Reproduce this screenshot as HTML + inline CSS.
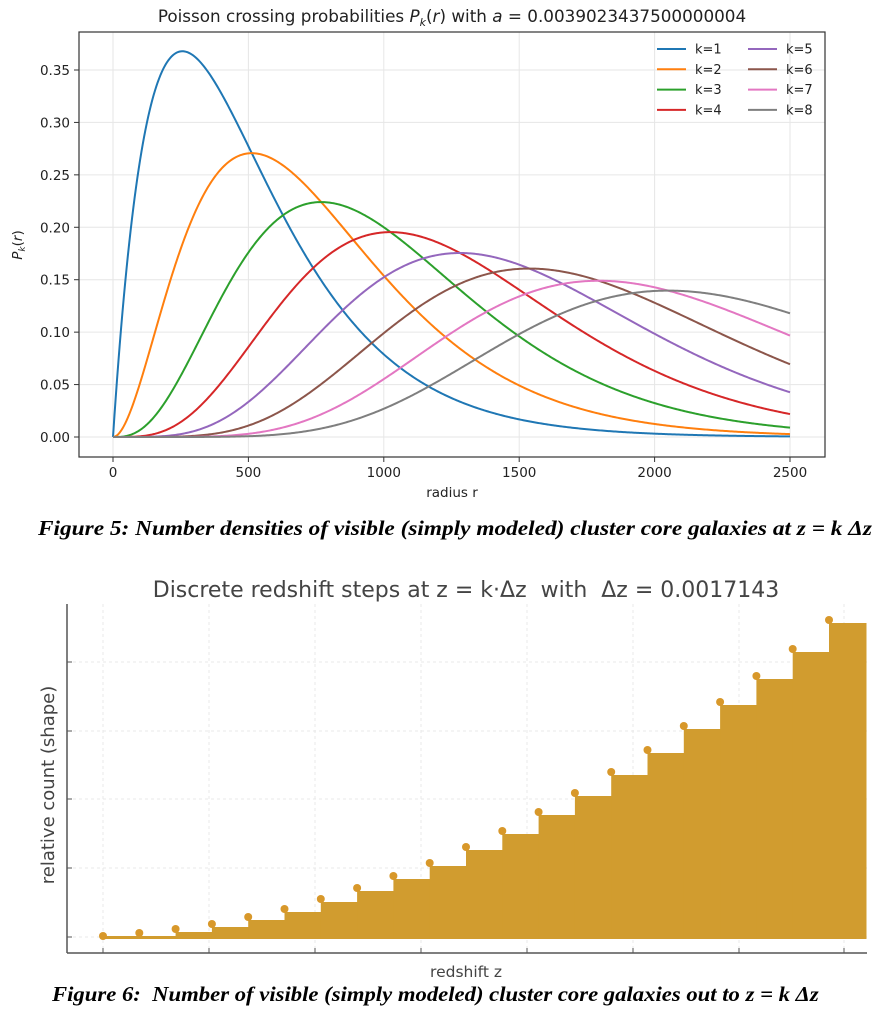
<!DOCTYPE html>
<html><head><meta charset="utf-8"><style>
body{margin:0;background:#fff;width:887px;height:1024px;overflow:hidden}
svg{position:absolute;left:0;top:0}
.cap{position:absolute;font-family:"Liberation Serif",serif;font-weight:bold;font-style:italic;font-size:21px;color:#000;white-space:pre;transform-origin:0 0}
</style></head><body>
<svg id="s" width="887" height="1024" xmlns="http://www.w3.org/2000/svg" font-family="DejaVu Sans, Liberation Sans, sans-serif">
<g id="g1"></g>
<g id="g2"></g>
<text x="452" y="22" font-size="16.8" text-anchor="middle" fill="#222">Poisson crossing probabilities <tspan font-style="italic">P</tspan><tspan font-style="italic" font-size="11" dy="4">k</tspan><tspan dy="-4">(</tspan><tspan font-style="italic">r</tspan>) with <tspan font-style="italic">a</tspan> = 0.0039023437500000004</text>
<text x="452" y="497" font-size="13.5" text-anchor="middle" fill="#222">radius r</text>
<text transform="translate(22,245) rotate(-90)" font-size="13.5" text-anchor="middle" fill="#222"><tspan font-style="italic">P</tspan><tspan font-style="italic" font-size="9" dy="3">k</tspan><tspan dy="-3">(</tspan><tspan font-style="italic">r</tspan>)</text>
<text x="466" y="597" font-size="22" text-anchor="middle" fill="#444" style="white-space:pre">Discrete redshift steps at z = k·Δz  with  Δz = 0.0017143</text>
<text transform="translate(54,785) rotate(-90)" font-size="18" text-anchor="middle" fill="#444">relative count (shape)</text>
<text x="466" y="977" font-size="15.5" text-anchor="middle" fill="#444">redshift z</text>
</svg>
<div class="cap" style="left:38px;top:516px;transform:scaleX(1.11)">Figure 5: Number densities of visible (simply modeled) cluster core galaxies at z = k Δz</div>
<div class="cap" style="left:52px;top:982px;transform:scaleX(1.08)">Figure 6:  Number of visible (simply modeled) cluster core galaxies out to z = k Δz</div>
<script>
const NS="http://www.w3.org/2000/svg";
function el(p,t,a,txt){const e=document.createElementNS(NS,t);for(const k in a)e.setAttribute(k,a[k]);if(txt!==undefined)e.textContent=txt;p.appendChild(e);return e;}
const g1=document.getElementById('g1');
const X=r=>113+r*(677/2500), Y=v=>437-v*1048.6;
for(let r=0;r<=2500;r+=500){el(g1,'line',{x1:X(r),x2:X(r),y1:32,y2:457,stroke:'#e6e6e6','stroke-width':1});
 el(g1,'line',{x1:X(r),x2:X(r),y1:457,y2:462,stroke:'#333'});
 el(g1,'text',{x:X(r),y:477,'font-size':13.5,'text-anchor':'middle',fill:'#222'},r);}
for(let i=0;i<=7;i++){const v=i*0.05;el(g1,'line',{x1:79,x2:825,y1:Y(v),y2:Y(v),stroke:'#e6e6e6'});
 el(g1,'line',{x1:74,x2:79,y1:Y(v),y2:Y(v),stroke:'#333'});
 el(g1,'text',{x:70,y:Y(v)+5,'font-size':13.5,'text-anchor':'end',fill:'#222'},v.toFixed(2));}
const cols=['#1f77b4','#ff7f0e','#2ca02c','#d62728','#9467bd','#8c564b','#e377c2','#7f7f7f'];
const a=0.0039023437500000004;
let fact=1;
for(let k=1;k<=8;k++){fact*=k;let d='';
 for(let r=0;r<=2500;r+=5){const x=a*r;const v=Math.pow(x,k)*Math.exp(-x)/fact;d+=(r?'L':'M')+X(r).toFixed(2)+','+Y(v).toFixed(2);}
 el(g1,'path',{d:d,fill:'none',stroke:cols[k-1],'stroke-width':2});}
el(g1,'rect',{x:79,y:32,width:746,height:425,fill:'none',stroke:'#333','stroke-width':1.2});
for(let k=0;k<8;k++){const c=Math.floor(k/4),r=k%4;const y=49+r*20.3;const lx=c?748:657;
 el(g1,'line',{x1:lx,x2:lx+29,y1:y,y2:y,stroke:cols[k],'stroke-width':2});
 el(g1,'text',{x:lx+38,y:y+4.5,'font-size':13,fill:'#222'},'k='+(k+1));}
const g2=document.getElementById('g2');
for(const x of [103,209,315,421,527,633,739,844]){el(g2,'line',{x1:x,x2:x,y1:604,y2:953,stroke:'#e8e8e8','stroke-dasharray':'3,3'});
 el(g2,'line',{x1:x,x2:x,y1:948,y2:953,stroke:'#555'});}
for(const y of [662,731,799,868,937]){el(g2,'line',{x1:67,x2:867,y1:y,y2:y,stroke:'#e8e8e8','stroke-dasharray':'3,3'});
 el(g2,'line',{x1:67,x2:72,y1:y,y2:y,stroke:'#555'});}
const dy=[936,933,929,924,917,909,899,888,876,863,847,831,812,793,772,750,726,702,676,649,620];
const C='#d19c2f';
for(let i=0;i<21;i++){const x0=103+i*36.3,x1=(i<20?103+(i+1)*36.3:866);
 const top=Math.min(dy[i]+3,936);
 el(g2,'rect',{x:x0,y:top,width:x1-x0+0.5,height:939-top,fill:C});
 el(g2,'circle',{cx:x0,cy:dy[i],r:4,fill:'#d8982a'});}
el(g2,'line',{x1:67,x2:67,y1:604,y2:953,stroke:'#555','stroke-width':1.5});
el(g2,'line',{x1:67,x2:867,y1:953,y2:953,stroke:'#555','stroke-width':1.5});
</script>
</body></html>
